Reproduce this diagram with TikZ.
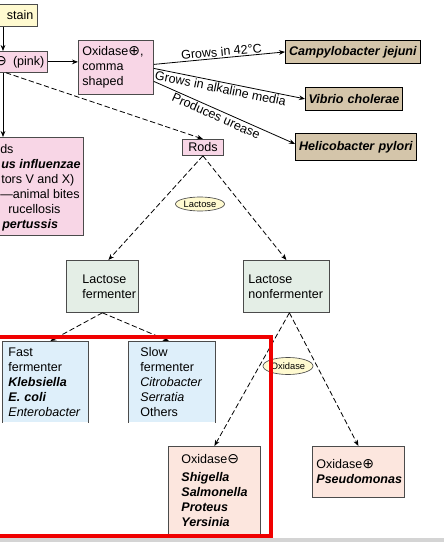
\documentclass[tikz,border=0pt]{standalone}
\usepackage{fontspec}
\setmainfont{Liberation Sans}
\newfontfamily\symf{DejaVu Sans}
\usetikzlibrary{arrows.meta,calc,shapes.geometric}
\definecolor{pinkf}{RGB}{248,214,230}
\definecolor{yelf}{RGB}{255,250,208}
\definecolor{tanf}{RGB}{212,197,170}
\definecolor{greenf}{RGB}{228,238,230}
\definecolor{bluef}{RGB}{222,239,250}
\definecolor{peachf}{RGB}{252,230,222}
\definecolor{bord}{RGB}{75,75,75}
\definecolor{stripf}{RGB}{212,212,212}
\definecolor{redl}{RGB}{240,0,0}
\newcommand{\bfit}[1]{\textbf{\textit{#1}}}
\newcommand{\cplus}{{\symf\fontsize{10.5}{10.5}\selectfont ⊕}}
\newcommand{\cminus}{{\symf\fontsize{10.5}{10.5}\selectfont ⊖}}
\begin{document}
\begin{tikzpicture}[x=0.75pt,y=-0.75pt,
  every node/.style={font=\fontsize{9.4}{11.25}\selectfont},
  box/.style={draw=bord, line width=0.6pt, inner ysep=0pt, align=left, anchor=north west},
  bx/.style n args={4}{minimum width={#1*0.75pt}, minimum height={#2*0.75pt},
     text width={(#1-2*#3)*0.75pt}, inner xsep={#3*0.75pt}, fill=#4},
  arr/.style={draw=black, line width=0.6pt, -{Stealth[length=4.5pt,width=3.5pt]}},
  dsh/.style={arr, dash pattern=on 4pt off 2pt},
  lab/.style={ellipse, draw=bord, fill=yelf, line width=0.5pt, inner sep=0pt,
     font=\fontsize{7}{8}\selectfont},
  frag/.style={anchor=base west, inner sep=0pt},
  bi/.style={font=\fontsize{9.4}{11.25}\selectfont\bfseries\itshape}
]
\useasboundingbox (0,0) rectangle (444,542);
\begin{scope}
\clip (0,0) rectangle (444,542);
\fill[white] (0,0) rectangle (444,542);

% top left
\node[box, bx={67}{22}{4}{yelf}, align=right] (stain) at (-30,4) {stain};
\node[box, bx={87}{21}{3}{pinkf}, align=right] (pink) at (-40,51) {\cminus\hspace{1.5pt} (pink)};
\node[box, bx={75}{54}{4}{pinkf}] (ox) at (78,40) {Oxidase\cplus,\\comma\\shaped};

% left box
\node[box, bx={123}{98}{0}{pinkf}] (lbox) at (-40,137) {};
\node[frag] (l1) at (0,153.5) {ds};
\node[frag, bi] (l2) at (1,168.5) {us influenzae};
\node[frag] (l3) at (1,183.5) {tors V and X)};
\node[frag] (l4) at (0,198.5) {—animal bites};
\node[frag] (l5) at (8,213.5) {rucellosis};
\node[frag, bi] (l6) at (2,228.5) {pertussis};

% right species
\node[box, draw=black, bx={135}{23}{0}{tanf}, align=center, bi] (camp) at (285,40) {Campylobacter jejuni};
\node[box, draw=black, bx={97}{23}{0}{tanf}, align=center, bi] (vib) at (305,87) {Vibrio cholerae};
\node[box, draw=black, bx={121}{27}{0}{tanf}, align=center, bi] (heli) at (295,133) {Helicobacter pylori};

% tree
\node[box, bx={41}{16}{0}{pinkf}, align=center] (rods) at (182,139) {Rods};
\node[lab, minimum width={49*0.75pt}, minimum height={14*0.75pt}] (lac) at (200,204) {Lactose};
\node[box, bx={72}{52}{16}{greenf}] (lf) at (66,260) {Lactose\\fermenter};
\node[box, bx={86}{52}{5}{greenf}] (lnf) at (243,260) {Lactose\\nonfermenter};
\node[box, draw=none, bx={86}{81}{6}{bluef}] (fast) at (2,341)
  {Fast\\fermenter\\\bfit{Klebsiella}\\\bfit{E. coli}\\\textit{Enterobacter}};
\node[box, draw=none, bx={87}{81}{12}{bluef}] (slow) at (128,341)
  {Slow\\fermenter\\\textit{Citrobacter}\\\textit{Serratia}\\Others};
\node[lab, minimum width={50*0.75pt}, minimum height={17*0.75pt}] (oxel) at (288,366) {Oxidase};
\node[box, bx={92}{88}{13}{peachf}] (oxm) at (168,446)
  {Oxidase\cminus\\[2pt]\bfit{Shigella}\\\bfit{Salmonella}\\\bfit{Proteus}\\\bfit{Yersinia}};
\node[box, bx={92}{51}{4}{peachf}] (oxp) at (312,446)
  {Oxidase\cplus\\\bfit{Pseudomonas}};

\draw[bord, line width=0.6pt] (fast.south west) -- (fast.north west) -- (fast.north east) -- (fast.south east);
\draw[bord, line width=0.6pt] (slow.south west) -- (slow.north west) -- (slow.north east) -- (slow.south east);

% connectors
\draw[arr] (3,0 |- stain.south) -- (3,0 |- pink.north);
\draw[arr] (pink.east) -- (ox.west |- pink.east);
\draw[arr] (3,0 |- pink.south) -- (3,0 |- lbox.north);
\draw[dsh] (6,0 |- pink.south) -- (rods.north);
\draw[arr] ($(ox.east)+(0,-3)$) -- node[sloped, above, pos=0.52, inner sep=1pt] (t1) {Grows in 42°C} (camp.west);
\draw[arr] ($(ox.east)+(0,1)$) -- node[sloped, below, pos=0.45, inner sep=1pt] (t2) {Grows in alkaline media} (vib.west);
\draw[arr] ($(ox.east)+(0,14)$) -- node[sloped, below, pos=0.46, inner sep=1pt] (t3) {Produces urease} ($(heli.west)+(0,-3)$);
\draw[dsh] (rods.south) -- ($(lf.north)+(6,0)$);
\draw[dsh] (rods.south) -- (lnf.north);
\draw[dsh] (lf.south) -- ($(fast.north)+(5,0)$);
\draw[dsh] (lf.south) -- ($(slow.north)+(-3,0)$);
\draw[dsh] ($(lnf.south)+(3,0)$) -- (oxm.north);
\draw[dsh] ($(lnf.south)+(3,0)$) -- (oxp.north);

% overlay
\draw[redl, line width=2.4pt] (-1.2,337) rectangle (271,536);
\fill[stripf] (0,537.5) rectangle (444,542);
\end{scope}
\end{tikzpicture}
\end{document}
